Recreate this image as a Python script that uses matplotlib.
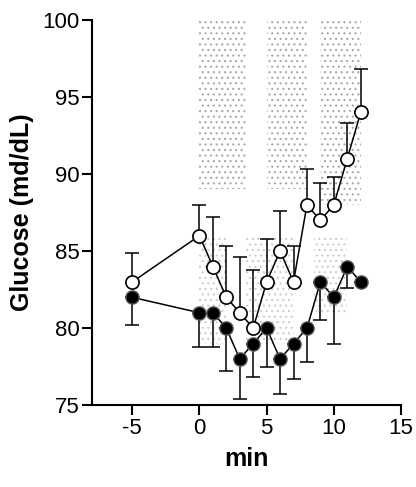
import numpy as np
import matplotlib
matplotlib.use('Agg')
import matplotlib.pyplot as plt

plt.rcParams['font.family'] = ['Liberation Sans', 'DejaVu Sans']
plt.rcParams['axes.unicode_minus'] = False
plt.rcParams['hatch.linewidth'] = 0.8

# Data
minutes = [-5, 0, 1, 2, 3, 4, 5, 6, 7, 8, 9, 10, 11, 12]
open_mean = [83, 86, 84, 82, 81, 80, 83, 85, 83, 88, 87, 88, 91, 94]
open_err = [1.9, 2.0, 3.2, 3.3, 3.6, 3.8, 2.8, 2.6, 2.3, 2.3, 2.4, 1.8, 2.3, 2.8]
filled_mean = [82, 81, 81, 80, 78, 79, 80, 78, 79, 80, 83, 82, 84, 83]
filled_err = [1.8, 2.2, 2.2, 2.8, 2.6, 2.2, 2.5, 2.3, 2.3, 2.2, 2.5, 3.0, 1.4, 0.0]

# faint stippled bands from the scan
band_x0 = [0.0, 5.0, 9.0, 0.0, 3.5, 8.5]
band_x1 = [3.5, 8.0, 12.0, 2.0, 7.0, 11.0]
band_y0 = [89, 89, 88, 79, 79, 81]
band_y1 = [100, 100, 100, 86, 86, 86]
band_col = ['#a8a8a8', '#a8a8a8', '#a8a8a8', '#cccccc', '#cccccc', '#cccccc']

fig = plt.figure(figsize=(4.16, 4.87), dpi=100)
ax = fig.add_axes([0.221, 0.168, 0.743, 0.791])

for x0, x1, y0, y1, c in zip(band_x0, band_x1, band_y0, band_y1, band_col):
    ax.fill_between([x0, x1], y0, y1, facecolor='none', edgecolor=c,
                    hatch='...', linewidth=0, zorder=0)

ax.errorbar(minutes, open_mean, yerr=[np.zeros(len(open_err)), open_err],
            fmt='none', ecolor='black', elinewidth=1.1, capsize=5, capthick=1.1, zorder=2)
ax.errorbar(minutes, filled_mean, yerr=[filled_err, np.zeros(len(filled_err))],
            fmt='none', ecolor='black', elinewidth=1.1, capsize=5, capthick=1.1, zorder=2)

ax.plot(minutes, filled_mean, '-o', color='black', lw=1.1, markersize=9.5,
        markerfacecolor='black', markeredgecolor='#555555', zorder=3)
ax.plot(minutes, open_mean, '-o', color='black', lw=1.1, markersize=9.5,
        markerfacecolor='white', markeredgecolor='black', markeredgewidth=1.2, zorder=4)

ax.set_xlim(-8, 15)
ax.set_ylim(75, 100)
ax.set_xticks([-5, 0, 5, 10, 15])
ax.set_yticks([75, 80, 85, 90, 95, 100])
ax.spines['top'].set_visible(False)
ax.spines['right'].set_visible(False)
for s in ['left', 'bottom']:
    ax.spines[s].set_linewidth(1.5)
ax.tick_params(direction='out', length=7, width=1.5, labelsize=16, pad=2)

ax.set_xlabel('min', fontsize=18, fontweight='bold', labelpad=6)
ax.set_ylabel('Glucose (md/dL)', fontsize=18, fontweight='bold', labelpad=6)

fig.savefig('out.png', dpi=100)
